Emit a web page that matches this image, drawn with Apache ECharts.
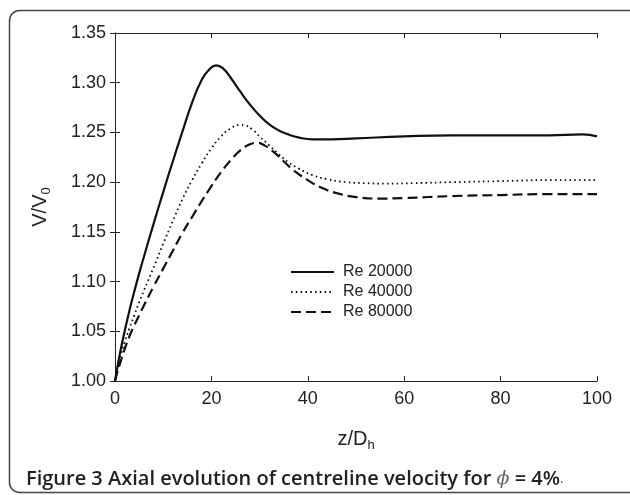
<!DOCTYPE html>
<html>
<head>
<meta charset="utf-8">
<script src="https://cdn.jsdelivr.net/npm/echarts@6/dist/echarts.min.js"></script>
<style>
html,body{margin:0;padding:0;background:#fff;}
#c{width:630px;height:495px;}
</style>
</head>
<body>
<div id="c"></div>
<script>
// ---- data ----
const xTicks = [0, 20, 40, 60, 80, 100];
const yTicks = [1.00, 1.05, 1.10, 1.15, 1.20, 1.25, 1.30, 1.35];

const seriesNames = ['Re 20000', 'Re 40000', 'Re 80000'];

const re20000X = [0, 0.5, 1, 2, 3, 4, 5, 6, 8, 10, 12, 14, 16, 18, 19.5, 21, 22.5, 24, 26, 28, 30, 32, 34, 36, 38, 41, 45, 50, 60, 70, 80, 90, 97, 100];
const re20000Y = [1.000, 1.014, 1.027, 1.050, 1.071, 1.090, 1.108, 1.125, 1.158, 1.190, 1.221, 1.251, 1.280, 1.303, 1.313, 1.3175, 1.314, 1.305, 1.291, 1.278, 1.267, 1.258, 1.252, 1.248, 1.245, 1.243, 1.243, 1.244, 1.246, 1.247, 1.247, 1.247, 1.248, 1.246];

const re40000X = [0, 0.5, 1, 2, 3, 4, 5, 6, 8, 10, 12, 14, 16, 18, 20, 22, 24, 26, 27, 28.5, 30, 32, 34, 36, 38, 41, 44, 48, 52, 56, 62, 70, 80, 90, 100];
const re40000Y = [1.000, 1.012, 1.022, 1.039, 1.053, 1.066, 1.079, 1.091, 1.114, 1.138, 1.161, 1.183, 1.202, 1.219, 1.234, 1.246, 1.254, 1.2575, 1.257, 1.253, 1.246, 1.237, 1.228, 1.220, 1.214, 1.207, 1.203, 1.200, 1.199, 1.1985, 1.199, 1.200, 1.201, 1.202, 1.202];

const re80000X = [0, 0.5, 1, 2, 3, 4, 5, 6, 8, 10, 12, 14, 16, 18, 20, 22, 24, 26, 28, 29.5, 31, 33, 35, 37, 40, 43, 46, 50, 55, 60, 70, 80, 90, 100];
const re80000Y = [1.000, 1.009, 1.017, 1.032, 1.045, 1.056, 1.066, 1.076, 1.095, 1.113, 1.131, 1.149, 1.165, 1.181, 1.196, 1.210, 1.222, 1.232, 1.238, 1.2395, 1.237, 1.230, 1.221, 1.212, 1.202, 1.194, 1.189, 1.185, 1.1835, 1.184, 1.186, 1.187, 1.188, 1.188];

function pairs(xs, ys) { return xs.map((x, i) => [x, ys[i]]); }

const FONT = 'Liberation Sans, Arial, sans-serif';
const axisCol = '#222';

const chart = echarts.init(document.getElementById('c'), null, {renderer: 'canvas'});

const baseAxisLine = {show: true, lineStyle: {color: axisCol, width: 1}};

const option = {
  backgroundColor: '#fff',
  animation: false,
  grid: {left: 115, right: 33, top: 33, bottom: 114},
  legend: {
    data: seriesNames,
    orient: 'vertical',
    left: 285,
    top: 259,
    itemWidth: 43,
    itemHeight: 14,
    itemGap: 4,
    itemStyle: {opacity: 0},
    textStyle: {fontFamily: FONT, fontSize: 16, color: '#222', padding: [0, 0, 0, 4]},
    inactiveColor: '#222'
  },
  xAxis: [{
    type: 'value', min: 0, max: 100, interval: 20,
    position: 'bottom',
    axisLine: baseAxisLine,
    axisTick: {show: true, inside: true, length: 5, lineStyle: {color: axisCol}},
    axisLabel: {fontFamily: FONT, fontSize: 18, color: '#222', margin: 9,
      formatter: v => xTicks.includes(v) ? String(v) : ''},
    splitLine: {show: false},
    name: '{a|z/D}{b|h}',
    nameLocation: 'middle',
    nameGap: 46,
    nameTextStyle: {
      rich: {
        a: {fontFamily: FONT, fontSize: 20, color: '#222'},
        b: {fontFamily: FONT, fontSize: 13, color: '#222', padding: [12, 0, 0, 0]}
      }
    }
  }, {
    type: 'value', min: 0, max: 100, interval: 20,
    position: 'top',
    axisLine: baseAxisLine,
    axisTick: {show: true, inside: true, length: 5, lineStyle: {color: axisCol}},
    axisLabel: {show: false},
    splitLine: {show: false}
  }],
  yAxis: [{
    type: 'value', min: 1.0, max: 1.35, interval: 0.05,
    position: 'left',
    axisLine: baseAxisLine,
    axisTick: {show: true, inside: true, length: 5, lineStyle: {color: axisCol}},
    axisLabel: {fontFamily: FONT, fontSize: 18, color: '#222', margin: 9,
      formatter: v => v.toFixed(2)},
    splitLine: {show: false},
    name: '{a|V/V}{b|0}',
    nameLocation: 'middle',
    nameGap: 62,
    nameTextStyle: {
      rich: {
        a: {fontFamily: FONT, fontSize: 20, color: '#222'},
        b: {fontFamily: FONT, fontSize: 13, color: '#222', padding: [12, 0, 0, 0]}
      }
    }
  }, {
    type: 'value', min: 1.0, max: 1.35, interval: 0.05,
    position: 'right',
    axisLine: baseAxisLine,
    axisTick: {show: true, inside: true, length: 5, lineStyle: {color: axisCol}},
    axisLabel: {show: false},
    splitLine: {show: false}
  }],
  series: [{
    name: seriesNames[0], type: 'line', xAxisIndex: 0, yAxisIndex: 0,
    data: pairs(re20000X, re20000Y), smooth: 0.5, symbol: 'none',
    lineStyle: {color: '#111', width: 2.2, type: 'solid'},
    itemStyle: {color: '#111'}
  }, {
    name: seriesNames[1], type: 'line', xAxisIndex: 0, yAxisIndex: 0,
    data: pairs(re40000X, re40000Y), smooth: 0.5, symbol: 'none',
    lineStyle: {color: '#111', width: 1.8, type: [1.6, 3.2], cap: 'butt'},
    itemStyle: {color: '#111'}
  }, {
    name: seriesNames[2], type: 'line', xAxisIndex: 0, yAxisIndex: 0,
    data: pairs(re80000X, re80000Y), smooth: 0.5, symbol: 'none',
    lineStyle: {color: '#111', width: 2.2, type: [10, 5]},
    itemStyle: {color: '#111'}
  }],
  graphic: [{
    type: 'rect',
    shape: {x: 9.5, y: 10.5, width: 640, height: 482, r: 10},
    style: {fill: 'none', stroke: '#444', lineWidth: 1.5},
    silent: true
  }, {
    type: 'text',
    left: 26,
    top: 469,
    style: {
      text: '{b|Figure 3 Axial evolution of centreline velocity for }{p|ϕ}{b| = 4%}{s|.}',
      rich: {
        b: {fontFamily: 'Open Sans, sans-serif', fontWeight: 600, fontSize: 20, fill: '#222'},
        p: {fontFamily: 'DejaVu Serif, serif', fontStyle: 'italic', fontSize: 19, fill: '#666'},
        s: {fontFamily: 'Open Sans, sans-serif', fontSize: 13, fill: '#444'}
      }
    }
  }]
};

chart.setOption(option);
</script>
</body>
</html>
